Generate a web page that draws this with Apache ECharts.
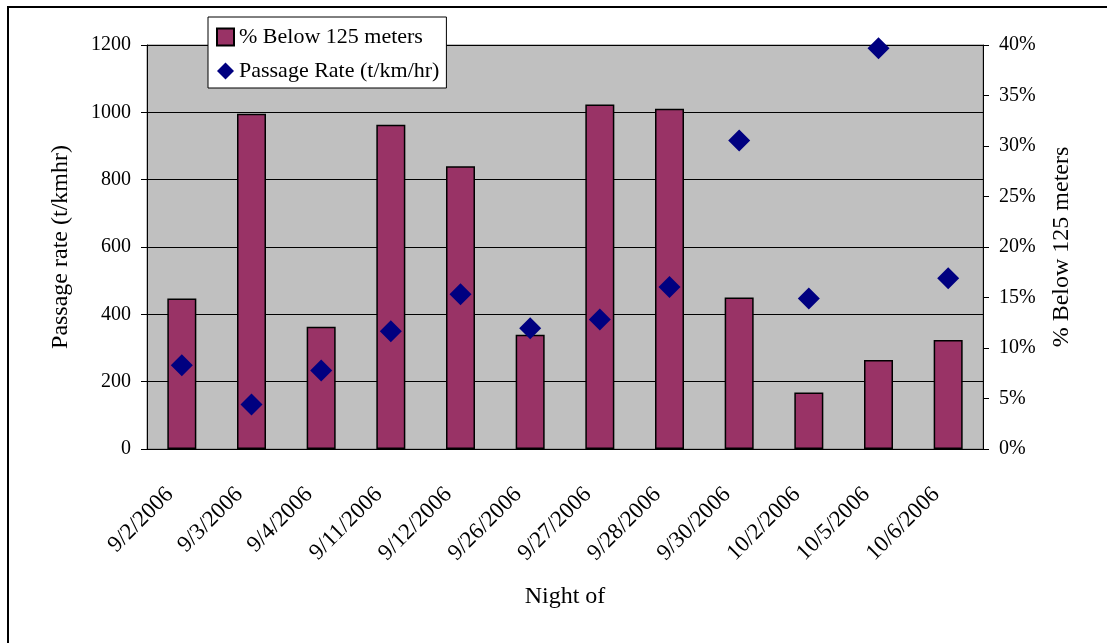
<!DOCTYPE html>
<html lang="en">
<head>
    <meta charset="utf-8">
    <title>Passage rate by night</title>
    <script src="https://cdn.jsdelivr.net/npm/echarts@6/dist/echarts.min.js"></script>
</head>
<body style="margin:0; background:#fff;">
<div id="main" style="width:1107px; height:643px;"></div>

<script type="text/javascript">
    // nights sampled
    const nights = ["9/2/2006", "9/3/2006", "9/4/2006", "9/11/2006", "9/12/2006", "9/26/2006",
        "9/27/2006", "9/28/2006", "9/30/2006", "10/2/2006", "10/5/2006", "10/6/2006"];
    // % of targets below 125 m (bars, right axis)
    const pctBelow125 = [14.9, 33.2, 12.1, 32.1, 28.0, 11.3, 34.1, 33.7, 15.0, 5.6, 8.8, 10.8];
    // passage rate t/km/hr (diamonds, left axis)
    const passageRate = [249, 132, 233, 350, 460, 359, 385, 481, 916, 447, 1190, 507];

    const font = 'Liberation Serif';

    let myChart = echarts.init(document.getElementById('main'));
    const option = {
        animation: false,
        textStyle: { fontFamily: font, color: '#000' },
        graphic: [{
            // outer chart frame, only top and left edges fall inside the picture
            type: 'rect',
            shape: { x: 8, y: 7, width: 1200, height: 700 },
            style: { fill: 'none', stroke: '#000', lineWidth: 2 },
            z: -10
        }],
        legend: {
            orient: 'vertical',
            left: 208,
            top: 17,
            backgroundColor: '#fff',
            borderColor: '#000',
            borderWidth: 1,
            padding: [9, 7, 6, 8],
            itemGap: 12,
            itemWidth: 17,
            itemHeight: 17,
            textStyle: { fontFamily: font, fontSize: 22, color: '#000' },
            data: [
                { name: '% Below 125 meters', icon: 'rect' },
                { name: 'Passage Rate (t/km/hr)', icon: 'diamond' }
            ]
        },
        grid: {
            left: 147, right: 124, top: 45, bottom: 194,
            show: true,
            backgroundColor: '#C0C0C0',
            borderColor: '#808080',
            borderWidth: 1
        },
        xAxis: {
            type: 'category',
            data: nights,
            name: 'Night of',
            nameLocation: 'middle',
            nameGap: 136,
            nameTextStyle: { fontFamily: font, fontSize: 24, color: '#000' },
            axisLine: { lineStyle: { color: '#000', width: 1 } },
            axisTick: { length: 7, lineStyle: { color: '#000' } },
            axisLabel: { rotate: 45, margin: 30, padding: [0, 17, 0, 0], fontFamily: font, fontSize: 23, color: '#000' }
        },
        yAxis: [{
            type: 'value',
            min: 0, max: 1200, interval: 200,
            name: 'Passage rate (t/kmhr)',
            nameLocation: 'middle',
            nameRotate: 90,
            nameGap: 74,
            nameTextStyle: { fontFamily: font, fontSize: 24, color: '#000' },
            axisLine: { show: true, lineStyle: { color: '#000' } },
            axisTick: { show: true, length: 6, lineStyle: { color: '#000' } },
            axisLabel: { margin: 16, formatter: v => String(v), fontFamily: font, fontSize: 20, color: '#000' },
            splitLine: { lineStyle: { color: '#000', width: 1 } }
        }, {
            type: 'value',
            position: 'right',
            min: 0, max: 40, interval: 5,
            name: '% Below 125 meters',
            nameLocation: 'middle',
            nameRotate: 90,
            nameGap: 67,
            nameTextStyle: { fontFamily: font, fontSize: 24, color: '#000' },
            axisLine: { show: true, lineStyle: { color: '#000' } },
            axisTick: { show: true, length: 6, lineStyle: { color: '#000' } },
            axisLabel: { margin: 16, formatter: '{value}%', fontFamily: font, fontSize: 20, color: '#000' },
            splitLine: { show: false }
        }],
        series: [{
            name: '% Below 125 meters',
            type: 'bar',
            yAxisIndex: 1,
            barWidth: 29,
            itemStyle: { color: '#993366', borderColor: '#000', borderWidth: 1.5 },
            data: pctBelow125
        }, {
            name: 'Passage Rate (t/km/hr)',
            type: 'scatter',
            yAxisIndex: 0,
            symbol: 'diamond',
            symbolSize: [22, 22],
            itemStyle: { color: '#000080', opacity: 1 },
            z: 5,
            data: passageRate
        }]
    };
    myChart.setOption(option);
</script>
</body>
</html>
